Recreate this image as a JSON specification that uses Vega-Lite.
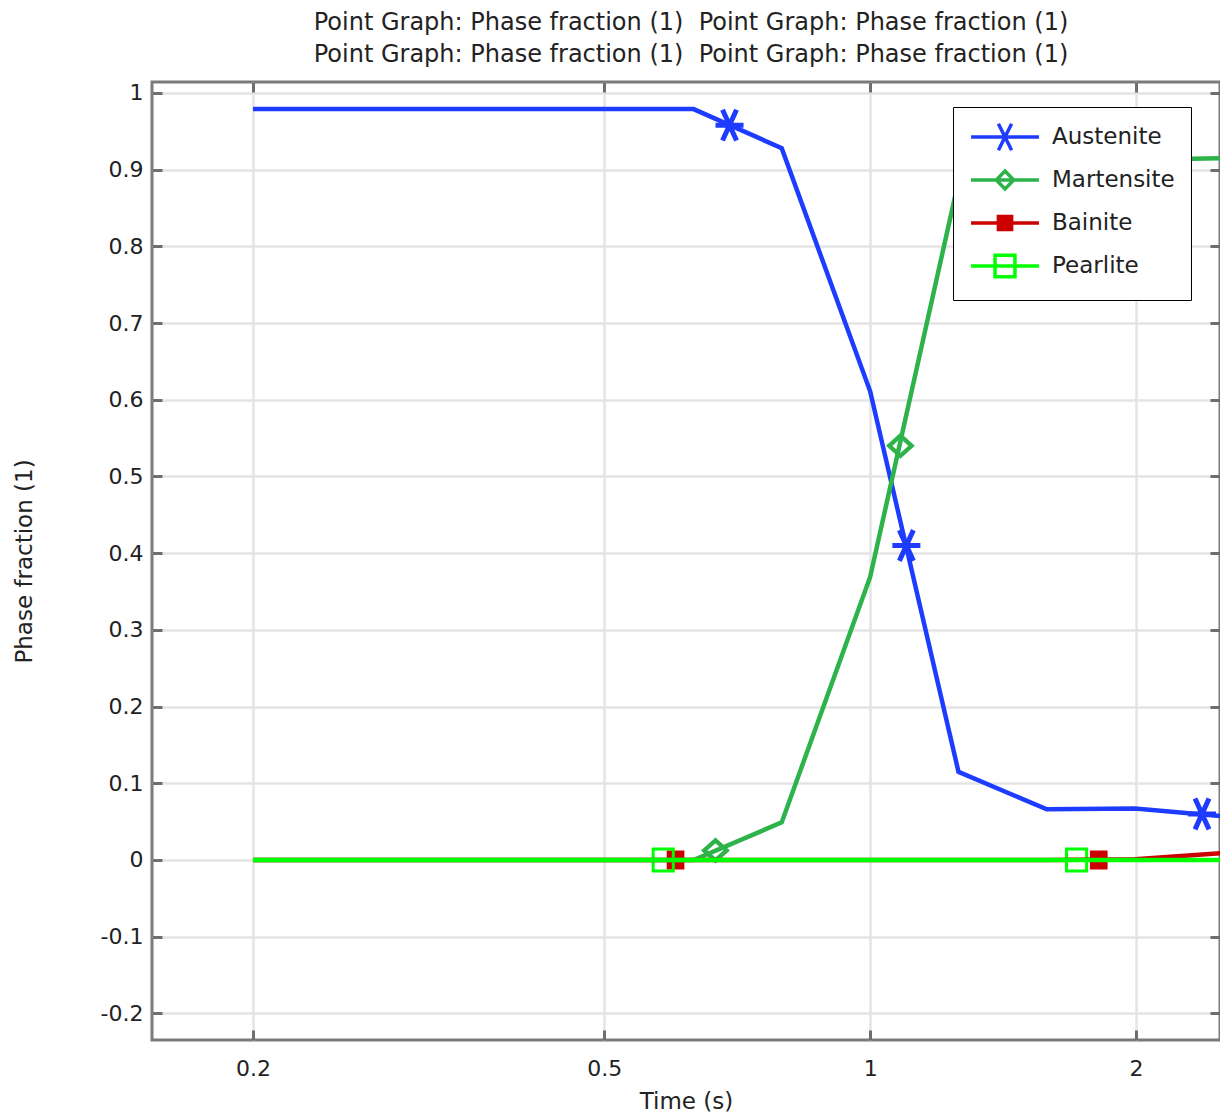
{
  "$schema": "https://vega.github.io/schema/vega-lite/v6.json",
  "autosize": "none",
  "padding": {"left": 152, "top": 82, "right": 0, "bottom": 74},
  "width": 1068,
  "height": 958,
  "background": "white",
  "title": {
    "text": [
      "Point Graph: Phase fraction (1)\u00a0 Point Graph: Phase fraction (1)",
      "Point Graph: Phase fraction (1)\u00a0 Point Graph: Phase fraction (1)"
    ],
    "anchor": "middle",
    "frame": "group",
    "font": "DejaVu Sans",
    "fontSize": 24,
    "fontWeight": "normal",
    "color": "#222222",
    "lineHeight": 32,
    "offset": 14,
    "dx": 5
  },
  "datasets": {
    "curves": [
      {"series": "Austenite", "t": 0.2, "v": 0.979},
      {"series": "Austenite", "t": 0.631, "v": 0.979},
      {"series": "Austenite", "t": 0.794, "v": 0.928},
      {"series": "Austenite", "t": 1.0, "v": 0.611},
      {"series": "Austenite", "t": 1.259, "v": 0.115},
      {"series": "Austenite", "t": 1.585, "v": 0.066},
      {"series": "Austenite", "t": 1.995, "v": 0.067},
      {"series": "Austenite", "t": 2.512, "v": 0.057},
      {"series": "Martensite", "t": 0.2, "v": 0.0},
      {"series": "Martensite", "t": 0.631, "v": 0.0},
      {"series": "Martensite", "t": 0.794, "v": 0.049},
      {"series": "Martensite", "t": 1.0, "v": 0.369},
      {"series": "Martensite", "t": 1.259, "v": 0.885},
      {"series": "Martensite", "t": 1.585, "v": 0.912},
      {"series": "Martensite", "t": 1.995, "v": 0.913},
      {"series": "Martensite", "t": 2.512, "v": 0.915},
      {"series": "Bainite", "t": 0.2, "v": 0.0},
      {"series": "Bainite", "t": 1.585, "v": 0.0},
      {"series": "Bainite", "t": 1.995, "v": 0.001},
      {"series": "Bainite", "t": 2.512, "v": 0.009},
      {"series": "Pearlite", "t": 0.2, "v": 0.0},
      {"series": "Pearlite", "t": 2.512, "v": 0.0}
    ],
    "markers": [
      {"series": "Austenite", "t": 0.693, "v": 0.958},
      {"series": "Austenite", "t": 1.099, "v": 0.41},
      {"series": "Austenite", "t": 2.376, "v": 0.06},
      {"series": "Martensite", "t": 0.668, "v": 0.0125},
      {"series": "Martensite", "t": 1.082, "v": 0.54},
      {"series": "Bainite", "t": 0.602, "v": 0.0},
      {"series": "Bainite", "t": 1.815, "v": 0.0},
      {"series": "Pearlite", "t": 0.583, "v": 0.0},
      {"series": "Pearlite", "t": 1.713, "v": 0.0}
    ]
  },
  "layer": [
    {
      "data": {"name": "markers"},
      "mark": {"type": "point", "size": 784, "opacity": 1, "clip": true},
      "encoding": {
        "x": {"field": "t", "type": "quantitative", "scale": {"type": "log", "domain": [0.1537, 2.49], "nice": false},
              "axis": {"orient": "top", "values": [0.2, 0.5, 1, 2], "labels": false, "title": null, "grid": false}},
        "y": {"field": "v", "type": "quantitative", "scale": {"domain": [-0.2347, 1.0143], "nice": false, "zero": false},
              "axis": {"orient": "right", "values": [-0.2, -0.1, 0, 0.1, 0.2, 0.3, 0.4, 0.5, 0.6, 0.7, 0.8, 0.9, 1], "labels": false, "title": null, "grid": false}},
        "shape": {"field": "series", "type": "nominal", "legend": null,
                  "scale": {"domain": ["Austenite", "Martensite", "Bainite", "Pearlite"],
                            "range": ["M-1,0H1M-0.5,-1.1L0.5,1.1M0.5,-1.1L-0.5,1.1", "M0,-0.72L0.8,0L0,0.72L-0.8,0Z", "M-0.5,-0.55H0.5V0.55H-0.5Z", "M-0.72,-0.78H0.72V0.78H-0.72Z"]}},
        "strokeWidth": {"field": "series", "type": "nominal", "legend": null,
                        "scale": {"domain": ["Austenite", "Martensite", "Bainite", "Pearlite"], "range": [5, 3, 3, 3.5]}},
        "stroke": {"field": "series", "type": "nominal", "legend": null,
                   "scale": {"domain": ["Austenite", "Martensite", "Bainite", "Pearlite"], "range": ["#1e3cff", "#2db34a", "#cc0000", "#00ff00"]}},
        "fill": {"field": "series", "type": "nominal", "legend": null,
                 "scale": {"domain": ["Austenite", "Martensite", "Bainite", "Pearlite"], "range": ["transparent", "transparent", "#cc0000", "transparent"]}}
      }
    },
    {
      "data": {"name": "curves"},
      "mark": {"type": "line", "strokeWidth": 4.5, "clip": true},
      "encoding": {
        "x": {"field": "t", "type": "quantitative", "title": "Time (s)",
              "axis": {"orient": "bottom", "values": [0.2, 0.5, 1, 2], "labelExpr": "'' + datum.value", "grid": true}},
        "y": {"field": "v", "type": "quantitative", "title": "Phase fraction (1)",
              "axis": {"orient": "left", "values": [-0.2, -0.1, 0, 0.1, 0.2, 0.3, 0.4, 0.5, 0.6, 0.7, 0.8, 0.9, 1], "labelExpr": "'' + datum.value", "grid": true}},
        "stroke": {"field": "series", "type": "nominal", "legend": null,
                   "scale": {"domain": ["Austenite", "Martensite", "Bainite", "Pearlite"], "range": ["#1e3cff", "#2db34a", "#cc0000", "#00ff00"]}}
      }
    },
    {
      "data": {"name": "markers"},
      "mark": {"type": "point", "strokeWidth": 3.5, "opacity": 0},
      "encoding": {
        "x": {"field": "t", "type": "quantitative", "axis": null},
        "y": {"field": "v", "type": "quantitative", "axis": null},
        "shape": {"field": "series", "type": "nominal", "title": null,
                  "scale": {"domain": ["Austenite", "Martensite", "Bainite", "Pearlite"],
                            "range": ["M-2.83,0H2.83M-0.55,-1.1L0.55,1.1M0.55,-1.1L-0.55,1.1", "M-2.83,0H2.83M0,-0.75L0.72,0L0,0.75L-0.72,0Z", "M-2.83,0H2.83M-0.55,-0.55H0.55V0.55H-0.55Z", "M-2.83,0H2.83M-0.83,-0.9H0.83V0.9H-0.83Z"]}},
        "stroke": {"field": "series", "type": "nominal", "title": null,
                   "scale": {"domain": ["Austenite", "Martensite", "Bainite", "Pearlite"], "range": ["#1e3cff", "#2db34a", "#cc0000", "#00ff00"]}},
        "fill": {"field": "series", "type": "nominal", "title": null,
                 "scale": {"domain": ["Austenite", "Martensite", "Bainite", "Pearlite"], "range": ["transparent", "transparent", "#cc0000", "transparent"]}}
      }
    }
  ],
  "resolve": {
    "axis": {"x": "independent", "y": "independent"},
    "scale": {"shape": "independent", "stroke": "independent", "fill": "independent", "strokeWidth": "independent"}
  },
  "config": {
    "view": {"stroke": "#7a7a7a", "strokeWidth": 3},
    "axis": {
      "domain": false,
      "labelFont": "DejaVu Sans",
      "labelFontSize": 22,
      "labelColor": "#222222",
      "titleFont": "DejaVu Sans",
      "titleFontSize": 23,
      "titleFontWeight": "normal",
      "titleColor": "#222222",
      "gridColor": "#e4e4e4",
      "gridWidth": 2.5,
      "tickColor": "#6e6e6e",
      "tickWidth": 3,
      "tickSize": -10
    },
    "axisX": {"labelPadding": 28, "titlePadding": 11},
    "axisY": {"labelPadding": 19, "titlePadding": 64},
    "legend": {
      "orient": "none",
      "legendX": 801,
      "legendY": 25,
      "direction": "vertical",
      "gridAlign": "all",
      "strokeColor": "#000000",
      "fillColor": "#ffffff",
      "padding": 16,
      "rowPadding": 4,
      "symbolSize": 576,
      "symbolStrokeWidth": 3.5,
      "symbolOpacity": 1,
      "symbolOffset": 22,
      "labelOffset": 33,
      "labelFont": "DejaVu Sans",
      "labelFontSize": 23,
      "labelColor": "#222222"
    }
  }
}
